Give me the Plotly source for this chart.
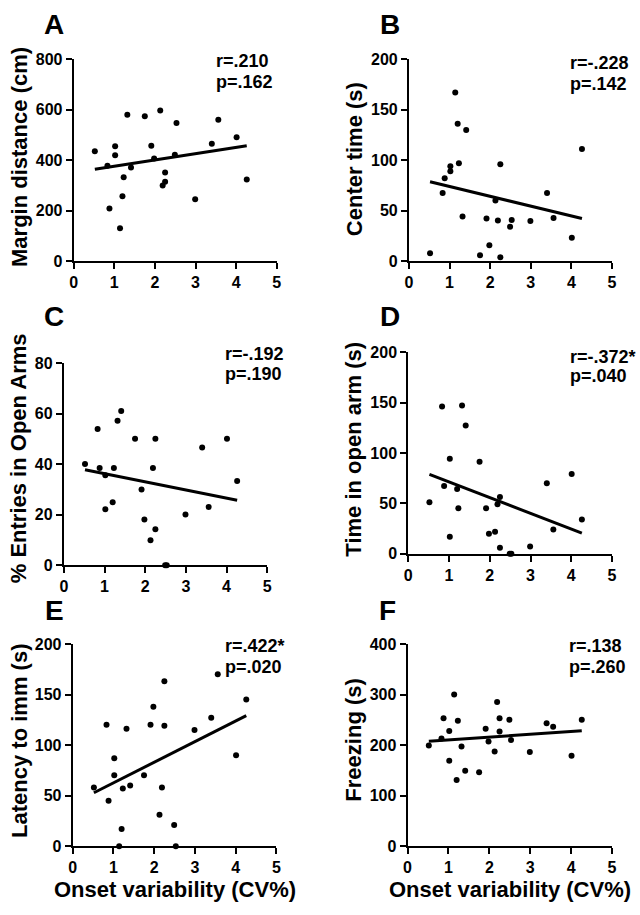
import numpy as np
import plotly.graph_objects as go

W, H = 640, 915
FONT = "Liberation Sans, Arial, Helvetica, sans-serif"

# ---------------- data ----------------
x_cv = [0.52, 0.83, 0.88, 1.02, 1.02, 1.14, 1.20, 1.23, 1.32, 1.41, 1.75, 1.91,
        1.98, 2.13, 2.19, 2.25, 2.25, 2.49, 2.53, 2.99, 3.40, 3.56, 4.01, 4.26]

margin_distance = [435, 378, 208, 455, 419, 130, 257, 332, 580, 371, 574, 457,
                   406, 597, 299, 314, 351, 421, 547, 245, 465, 560, 491, 323]
center_time = [7.5, 67.5, 82, 94, 89, 167, 136, 97, 44, 130, 5.5, 42,
               15.6, 60, 40, 96, 3.6, 34, 40.6, 39.6, 67.5, 42.5, 23, 111]
entries_open = [40, 53.9, 38.4, 35.6, 22.1, None, 24.9, 38.4, 57.1, 61, 50, 29.9,
                18.1, 9.9, 38.4, 14.2, 50, 0, 0, 20, 46.6, 23, 50, 33.3]
time_open_arm = [51, 146, 67.2, 94.2, 16.9, None, 64.3, 45.1, 147, 127.3, 91.3, 45.1,
                 19.8, 21.7, 49, 56.2, 5.8, 0, 0, 7.1, 70, 24, 79, 34]
latency_imm = [58, 120, 45, 87, 70, 0, 17, 57, 116, 60, 70, 120,
               138, 31, 58, 163, 119, 21, 0, 115, 127, 170, 90, 145]
freezing = [199, 213, 253, 228, 169, 300, 131, 248, 197, 149, 146, 232,
            207, 187, 285, 253, 227, 250, 210, 186, 243, 236, 179, 250]

letters = ["A", "B", "C", "D", "E", "F"]
y_titles = ["Margin distance (cm)", "Center time (s)", "% Entries in Open Arms",
            "Time in open arm (s)", "Latency to imm (s)", "Freezing (s)"]
y_ticks = [[0, 200, 400, 600, 800], [0, 50, 100, 150, 200], [0, 20, 40, 60, 80],
           [0, 50, 100, 150, 200], [0, 50, 100, 150, 200], [0, 100, 200, 300, 400]]
x_ticks = [0, 1, 2, 3, 4, 5]
r_texts = ["r=.210", "r=-.228", "r=-.192", "r=-.372*", "r=.422*", "r=.138"]
p_texts = ["p=.162", "p=.142", "p=.190", "p=.040", "p=.020", "p=.260"]
x_title = "Onset variability (CV%)"
series = [margin_distance, center_time, entries_open, time_open_arm, latency_imm, freezing]

# ---------------- layout geometry (pixels) ----------------
# (left, right, top, bottom) of each plot area
boxes = [(70.7, 276.7, 52.3, 257.7), (410.7, 616.7, 52.3, 257.7),
         (60.7, 267.0, 361.7, 567.7), (410.0, 616.7, 350.7, 556.0),
         (69.7, 276.3, 648.0, 854.0), (409.3, 616.7, 648.0, 854.0)]
letter_pos = [(51, 17), (391, 17), (51, 314), (391, 314), (51, 614), (389, 614)]
ytitle_pos = [(15, 152), (355, 154), (15, 459), (355, 450), (15, 747), (355, 746.5)]
rp_pos = [(213.3, 54, 75), (571.7, 56, 77), (221.7, 353, 373),
          (571.7, 356, 375), (221.7, 650, 671), (570.7, 650, 671)]


def px(x):
    return x / W


def py(y):
    return 1 - y / H


def bold(v):
    return "<b>%s</b>" % v


fig = go.Figure()
annotations = []
layout_axes = {}

for i in range(6):
    sfx = "" if i == 0 else str(i + 1)
    xa, ya = "x" + sfx, "y" + sfx
    l, r, t, b = boxes[i]
    yv = series[i]
    xs = [x for x, y in zip(x_cv, yv) if y is not None]
    ys = [y for y in yv if y is not None]

    fig.add_trace(go.Scatter(x=xs, y=ys, mode="markers", xaxis=xa, yaxis=ya,
                             marker=dict(color="black", size=6),
                             cliponaxis=False, showlegend=False))
    slope, intercept = np.polyfit(xs, ys, 1)
    fx = np.array([min(xs), max(xs)])
    fig.add_trace(go.Scatter(x=fx, y=slope * fx + intercept, mode="lines",
                             xaxis=xa, yaxis=ya, line=dict(color="black", width=3),
                             cliponaxis=False, showlegend=False))

    common = dict(showline=True, linewidth=2, linecolor="black", ticks="outside",
                  ticklen=6, tickwidth=2, tickcolor="black", showgrid=False,
                  zeroline=False, fixedrange=True,
                  tickfont=dict(family=FONT, size=16, color="black", weight="bold"))
    layout_axes["xaxis" + sfx] = dict(domain=[px(l), px(r)], anchor=ya, range=[0, 5],
                                      tickvals=x_ticks, ticktext=[bold(v) for v in x_ticks],
                                      **common)
    yt = y_ticks[i]
    layout_axes["yaxis" + sfx] = dict(domain=[py(b), py(t)], anchor=xa,
                                      range=[yt[0], yt[-1]], tickvals=yt,
                                      ticktext=[bold(v) for v in yt], **common)

    # panel letter
    lx, ly = letter_pos[i]
    annotations.append(dict(text=bold(letters[i]), x=px(lx), y=py(ly), xref="paper", yref="paper",
                            xanchor="center", yanchor="middle", showarrow=False,
                            font=dict(family=FONT, size=28, color="black", weight="bold")))
    # y title
    tx, ty = ytitle_pos[i]
    annotations.append(dict(text=bold(y_titles[i]), x=px(tx), y=py(ty), xref="paper", yref="paper",
                            xanchor="center", yanchor="middle", textangle=-90, showarrow=False,
                            font=dict(family=FONT, size=22, color="black", weight="bold")))
    # r / p
    rx, ry1, ry2 = rp_pos[i]
    for txt, yy in ((r_texts[i], ry1), (p_texts[i], ry2)):
        annotations.append(dict(text=bold(txt), x=px(rx), y=py(yy), xref="paper", yref="paper",
                                xanchor="left", yanchor="middle", showarrow=False,
                                font=dict(family=FONT, size=18, color="black", weight="bold")))

# x-axis titles (bottom row)
for i in (4, 5):
    l, r, t, b = boxes[i]
    annotations.append(dict(text=bold(x_title), x=px((l + r) / 2), y=py(898), xref="paper",
                            yref="paper", xanchor="center", yanchor="middle", showarrow=False,
                            font=dict(family=FONT, size=22, color="black", weight="bold")))

fig.update_layout(width=W, height=H, autosize=False,
                  margin=dict(l=0, r=0, t=0, b=0, pad=0),
                  paper_bgcolor="white", plot_bgcolor="white",
                  showlegend=False, annotations=annotations, **layout_axes)

fig.write_html("out.html", config={"displayModeBar": False},
               post_script="document.body.style.margin='0';document.body.style.padding='0';")
